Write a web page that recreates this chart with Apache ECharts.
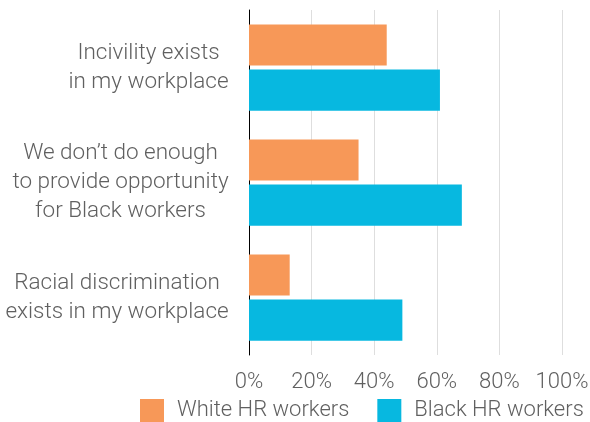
<!DOCTYPE html>
<html>
<head>
<meta charset="utf-8">
<script src="https://cdn.jsdelivr.net/npm/echarts@6/dist/echarts.min.js"></script>
<style>
  html, body { margin: 0; padding: 0; background: #fff; }
  #main { width: 590px; height: 422px; }
</style>
</head>
<body>
<div id="main"></div>
<script>
var categories = [
  'Incivility exists\nin my workplace',
  'We don\u2019t do enough\nto provide opportunity\nfor Black workers',
  'Racial discrimination\nexists in my workplace'
];
var whiteHR = [44, 35, 13];
var blackHR = [61, 68, 49];
var xTicks = [0, 20, 40, 60, 80, 100];

var myChart = echarts.init(document.getElementById('main'));

var textGray = '#606060';
var font = 'Roboto';
var labelSize = 22.5;

// each category label: lines centred on each other, block right aligned to the axis
var ctx = document.createElement('canvas').getContext('2d');
ctx.font = '300 ' + labelSize + 'px ' + font;
var rich = {};
categories.forEach(function (c, i) {
  var w = 0;
  c.split('\n').forEach(function (l) { w = Math.max(w, ctx.measureText(l).width); });
  rich['c' + i] = {
    width: Math.ceil(w) + 2,
    align: 'center',
    color: textGray,
    fontSize: labelSize,
    fontFamily: font,
    fontWeight: 300,
    lineHeight: 29
  };
});

var option = {
  animation: false,
  grid: {
    left: 249,
    right: 28,
    top: 10,
    bottom: 67,
    outerBoundsMode: 'none',
    containLabel: false
  },
  legend: {
    data: ['White HR workers', 'Black HR workers'],
    left: 140,
    top: 399,
    padding: 0,
    itemWidth: 24,
    itemHeight: 23,
    itemGap: 28,
    icon: 'rect',
    textStyle: {
      color: textGray,
      fontSize: 22,
      fontFamily: font,
      fontWeight: 300,
      padding: [0, 0, 0, 8]
    }
  },
  xAxis: {
    type: 'value',
    min: xTicks[0],
    max: xTicks[xTicks.length - 1],
    interval: 20,
    axisLine: { show: false },
    axisTick: { show: false },
    splitLine: { lineStyle: { color: '#dedede', width: 1 } },
    axisLabel: {
      formatter: '{value}%',
      color: textGray,
      fontSize: 22,
      fontFamily: font,
      fontWeight: 300,
      margin: 16
    }
  },
  yAxis: {
    type: 'category',
    inverse: true,
    data: categories,
    axisLine: { show: true, lineStyle: { color: '#000', width: 1 } },
    axisTick: { show: false },
    axisLabel: {
      color: textGray,
      fontSize: labelSize,
      fontFamily: font,
      fontWeight: 300,
      lineHeight: 29,
      align: 'right',
      margin: 19,
      rich: rich,
      formatter: function (v) {
        var i = categories.indexOf(v);
        return v.split('\n').map(function (l) { return '{c' + i + '|' + l + '}'; }).join('\n');
      }
    }
  },
  series: [
    {
      name: 'White HR workers',
      type: 'bar',
      data: whiteHR,
      itemStyle: { color: '#f79858' },
      barGap: '10%',
      barCategoryGap: '25%'
    },
    {
      name: 'Black HR workers',
      type: 'bar',
      data: blackHR,
      itemStyle: { color: '#07b8e0' },
      barGap: '10%',
      barCategoryGap: '25%'
    }
  ]
};

myChart.setOption(option);
</script>
</body>
</html>
